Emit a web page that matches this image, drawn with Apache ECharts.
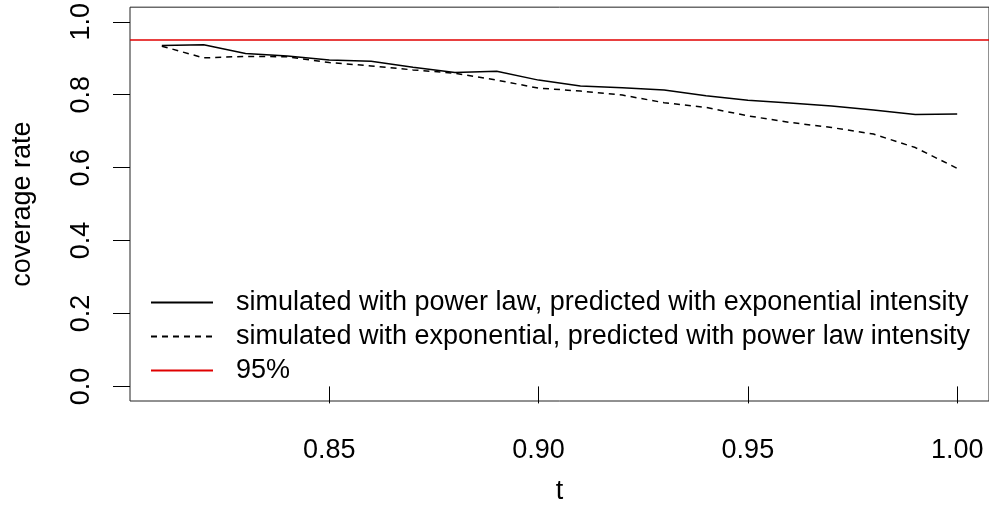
<!DOCTYPE html>
<html>
<head>
<meta charset="utf-8">
<title>coverage rate</title>
<script src="https://cdn.jsdelivr.net/npm/echarts@6/dist/echarts.min.js"></script>
<style>
  html, body { margin: 0; padding: 0; background: #fff; }
  #chart { width: 989px; height: 529px; }
</style>
</head>
<body>
<div id="chart"></div>
<script>
// t values on the x axis
const tValues = [0.81, 0.82, 0.83, 0.84, 0.85, 0.86, 0.87, 0.88, 0.89, 0.90,
  0.91, 0.92, 0.93, 0.94, 0.95, 0.96, 0.97, 0.98, 0.99, 1.00]
// simulated with power law, predicted with exponential intensity
const powerLawRate = [0.935, 0.937, 0.913, 0.906, 0.895, 0.892, 0.875, 0.861, 0.864, 0.840,
  0.824, 0.819, 0.813, 0.797, 0.785, 0.777, 0.769, 0.758, 0.746, 0.747]
// simulated with exponential, predicted with power law intensity
const exponentialRate = [0.933, 0.901, 0.905, 0.904, 0.888, 0.879, 0.868, 0.859, 0.840, 0.818,
  0.810, 0.799, 0.778, 0.765, 0.742, 0.724, 0.710, 0.692, 0.655, 0.598]
const nominalLevel = 0.95
const xTicks = [0.85, 0.90, 0.95, 1.00]
const yTicks = [0, 0.2, 0.4, 0.6, 0.8, 1.0]
const legendNames = [
  'simulated with power law, predicted with exponential intensity',
  'simulated with exponential, predicted with power law intensity',
  '95%'
]

const font = "'Liberation Sans', Arial, Helvetica, sans-serif"

const chart = echarts.init(document.getElementById('chart'))

const pairs = (ys) => tValues.map((t, i) => [t, ys[i]])

chart.setOption({
  animation: false,
  backgroundColor: '#fff',
  grid: {
    left: 130,
    right: -1,
    top: 6,
    bottom: 128,
    show: true,
    borderColor: '#222',
    borderWidth: 1
  },
  legend: {
    orient: 'vertical',
    left: 145,
    top: 284,
    itemWidth: 62,
    itemHeight: 27,
    itemGap: 7,
    selectedMode: false,
    // hide the symbol in the legend sample, keep only the line
    itemStyle: { opacity: 0 },
    textStyle: {
      fontFamily: font,
      fontSize: 27,
      color: '#000',
      padding: [0, 0, 0, 18]
    },
    data: legendNames
  },
  xAxis: {
    type: 'value',
    min: 0.8024,
    max: 1.0076,
    name: 't',
    nameLocation: 'middle',
    nameGap: 77,
    nameTextStyle: { fontFamily: font, fontSize: 27, color: '#000' },
    axisLine: { show: false },
    splitLine: { show: false },
    axisTick: {
      show: true,
      length: 17,
      customValues: xTicks,
      lineStyle: { color: '#000' }
    },
    axisLabel: {
      customValues: xTicks,
      margin: 36,
      fontFamily: font,
      fontSize: 27,
      color: '#000',
      formatter: (v) => v.toFixed(2)
    }
  },
  yAxis: {
    type: 'value',
    min: -0.04,
    max: 1.04,
    name: 'coverage rate',
    nameLocation: 'middle',
    nameGap: 94,
    nameRotate: 90,
    nameTextStyle: { fontFamily: font, fontSize: 27, color: '#000' },
    axisLine: { show: false },
    splitLine: { show: false },
    axisTick: {
      show: true,
      length: 17,
      customValues: yTicks,
      lineStyle: { color: '#000' }
    },
    axisLabel: {
      customValues: yTicks,
      rotate: 90,
      margin: 35,
      fontFamily: font,
      fontSize: 27,
      color: '#000',
      formatter: (v) => v.toFixed(1)
    }
  },
  series: [
    {
      name: legendNames[0],
      type: 'line',
      symbol: 'none',
      color: '#000',
      lineStyle: { color: '#000', width: 1.5, type: 'solid' },
      data: pairs(powerLawRate)
    },
    {
      name: legendNames[1],
      type: 'line',
      symbol: 'none',
      color: '#000',
      lineStyle: { color: '#000', width: 1.5, type: [6, 5] },
      data: pairs(exponentialRate)
    },
    {
      name: legendNames[2],
      type: 'line',
      symbol: 'none',
      color: '#e00000',
      lineStyle: { color: '#e00000', width: 1.5 },
      data: [],
      markLine: {
        silent: true,
        symbol: 'none',
        label: { show: false },
        lineStyle: { color: '#e00000', width: 1.5, type: 'solid' },
        data: [{ yAxis: nominalLevel }]
      }
    }
  ]
})
</script>
</body>
</html>
